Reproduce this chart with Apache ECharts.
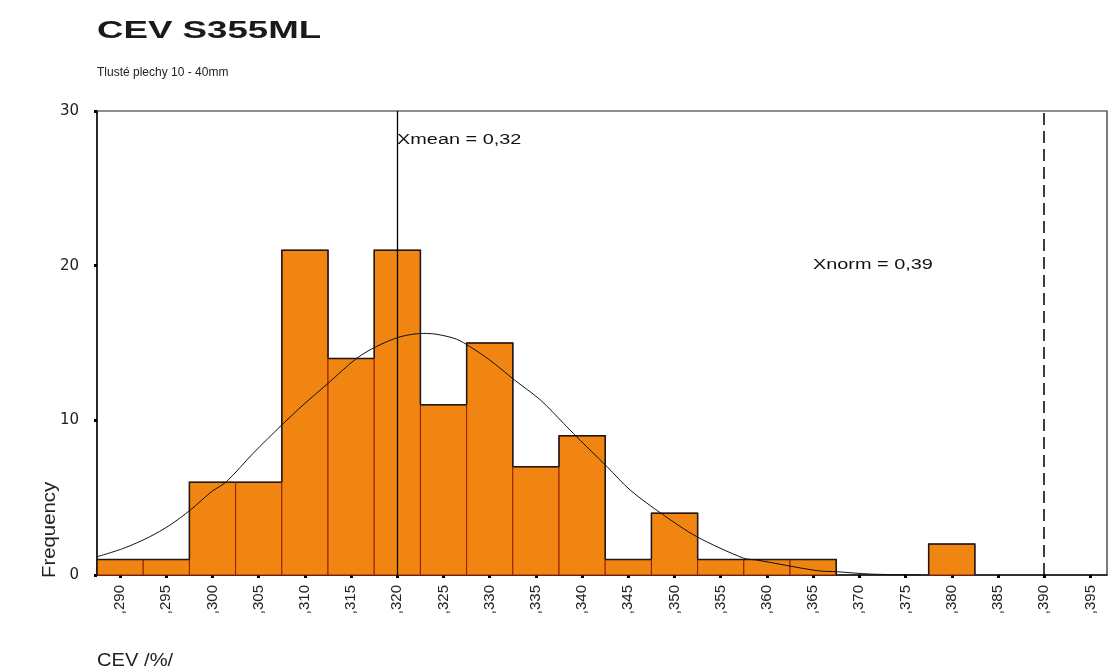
<!DOCTYPE html>
<html>
<head>
<meta charset="utf-8">
<title>CEV S355ML</title>
<script src="https://cdn.jsdelivr.net/npm/echarts@6/dist/echarts.min.js"></script>
<style>
  html, body { margin: 0; padding: 0; background: #ffffff; }
  #chart { width: 1109px; height: 671px; }
</style>
</head>
<body>
<div id="chart"></div>
<script>
// Histogram of CEV values (bin centres, width 0.005)
const binCenters = [0.290, 0.295, 0.300, 0.305, 0.310, 0.315, 0.320, 0.325, 0.330, 0.335, 0.340,
                    0.345, 0.350, 0.355, 0.360, 0.365, 0.370, 0.375, 0.380, 0.385, 0.390, 0.395];
const counts     = [1, 1, 6, 6, 21, 14, 21, 11, 15, 7, 9,
                    1, 4, 1, 1, 1, 0, 0, 2, 0, 0, 0];
const binWidth = 0.005;

// Fitted normal curve, sampled points [CEV, frequency]
const curveX = [0.2875, 0.2904, 0.2931, 0.2954, 0.2976, 0.2999, 0.3015, 0.3044, 0.3075, 0.3098,
                0.3125, 0.3156, 0.3177, 0.3203, 0.3228, 0.3243, 0.3264, 0.3279, 0.3300, 0.3327,
                0.3355, 0.3380, 0.3394, 0.3427, 0.3452, 0.3488, 0.3524, 0.3575, 0.3589, 0.3654,
                0.3676, 0.3712, 0.3766];
const curveY = [1.18, 1.73, 2.44, 3.23, 4.20, 5.39, 6.03, 7.87, 9.70, 10.99,
                12.39, 14.01, 14.76, 15.40, 15.62, 15.56, 15.25, 14.75, 13.90, 12.60,
                11.31, 9.80, 8.94, 7.00, 5.49, 3.88, 2.48, 1.08, 0.97, 0.28,
                0.21, 0.06, 0.00];

// Reference lines
const xMean = 0.32;
const xNorm = 0.39;

// Axis ticks
const xTicks = [0.290, 0.295, 0.300, 0.305, 0.310, 0.315, 0.320, 0.325, 0.330, 0.335, 0.340,
                0.345, 0.350, 0.355, 0.360, 0.365, 0.370, 0.375, 0.380, 0.385, 0.390, 0.395];

const fmtDec = (v, d) => v.toFixed(d).replace('.', ',');
const FONT = '"Liberation Sans", Arial, sans-serif';

const chart = echarts.init(document.getElementById('chart'));

// One histogram bin: orange fill with dark red edges, black outline on the
// parts of the silhouette that stand above the neighbouring bins
function renderBin(params, api) {
  const i = params.dataIndex;
  const c = api.value(0);
  const v = api.value(1);
  if (!v) return null;
  const prev = i > 0 ? counts[i - 1] : 0;
  const next = i < counts.length - 1 ? counts[i + 1] : 0;
  const tl = api.coord([c - binWidth / 2, v]);
  const br = api.coord([c + binWidth / 2, 0]);
  const xl = tl[0], xr = br[0], yt = tl[1], yb = br[1];
  const yPrev = api.coord([c, Math.min(prev, v)])[1];
  const yNext = api.coord([c, Math.min(next, v)])[1];
  return {
    type: 'group',
    children: [{
      type: 'rect',
      shape: { x: xl, y: yt, width: xr - xl, height: yb - yt },
      style: { fill: '#F08512', stroke: '#9a1c00', lineWidth: 1 }
    }, {
      type: 'polyline',
      shape: { points: [[xl, yPrev], [xl, yt], [xr, yt], [xr, yNext]] },
      style: { fill: null, stroke: '#1a1a1a', lineWidth: 1.5 }
    }]
  };
}

chart.setOption({
  animation: false,
  backgroundColor: '#ffffff',
  grid: {
    left: 97, right: 2, top: 111, bottom: 96,
    show: true, borderColor: '#222', borderWidth: 1.2, backgroundColor: 'transparent'
  },
  xAxis: {
    type: 'value',
    min: 0.2875,
    max: 0.3968,
    axisLine: { show: true, onZero: false, lineStyle: { color: '#111', width: 1.5 } },
    axisTick: { show: true, customValues: xTicks, length: 3, lineStyle: { color: '#000', width: 3 } },
    axisLabel: {
      show: true, customValues: xTicks, rotate: 90, margin: 10,
      fontFamily: FONT, fontSize: 15, color: '#222',
      formatter: v => ',' + Math.round(v * 1000)
    },
    splitLine: { show: false }
  },
  yAxis: {
    type: 'value',
    min: 0, max: 30, interval: 10,
    axisLine: { show: true, lineStyle: { color: '#111', width: 1.5 } },
    axisTick: { show: true, length: 3, lineStyle: { color: '#000', width: 3 } },
    axisLabel: { margin: 18, fontFamily: '"DejaVu Sans", sans-serif', fontSize: 15, color: '#222' },
    splitLine: { show: false }
  },
  series: [{
    type: 'custom',
    name: 'Frequency',
    renderItem: renderBin,
    data: binCenters.map((c, i) => [c, counts[i]]),
    z: 2
  }, {
    type: 'line',
    name: 'Normal',
    data: curveX.map((x, i) => [x, curveY[i]]),
    smooth: 0.3,
    showSymbol: false,
    lineStyle: { color: '#111', width: 1 },
    z: 3,
    markLine: {
      silent: true,
      symbol: 'none',
      label: { show: false },
      data: [
        { xAxis: xMean, lineStyle: { color: '#000', width: 1.3, type: 'solid' } },
        { xAxis: xNorm, lineStyle: { color: '#000', width: 1.5, type: [12, 6] } }
      ]
    }
  }],
  graphic: [{
    type: 'text',
    x: 97, y: 31, scaleX: 1.41, scaleY: 0.95,
    style: { text: 'CEV S355ML', fontFamily: FONT, fontSize: 26, fontWeight: 'bold',
             fill: '#1a1a1a', textVerticalAlign: 'middle' }
  }, {
    type: 'text',
    x: 97, y: 73,
    style: { text: 'Tlusté plechy 10 - 40mm', fontFamily: FONT, fontSize: 12, fill: '#222',
             textVerticalAlign: 'middle' }
  }, {
    type: 'text',
    x: 397, y: 140, scaleX: 1.42,
    style: { text: 'Xmean = ' + fmtDec(xMean, 2), fontFamily: FONT, fontSize: 14, fill: '#111',
             textVerticalAlign: 'middle' }
  }, {
    type: 'text',
    x: 813, y: 265, scaleX: 1.42,
    style: { text: 'Xnorm = ' + fmtDec(xNorm, 2), fontFamily: FONT, fontSize: 14, fill: '#111',
             textVerticalAlign: 'middle' }
  }, {
    type: 'text',
    x: 41, y: 578, rotation: Math.PI / 2, scaleX: 1.13,
    style: { text: 'Frequency', fontFamily: FONT, fontSize: 18, fill: '#222' }
  }, {
    type: 'text',
    x: 97, y: 661, scaleX: 1.12,
    style: { text: 'CEV /%/', fontFamily: FONT, fontSize: 18, fill: '#222',
             textVerticalAlign: 'middle' }
  }]
});
</script>
</body>
</html>
